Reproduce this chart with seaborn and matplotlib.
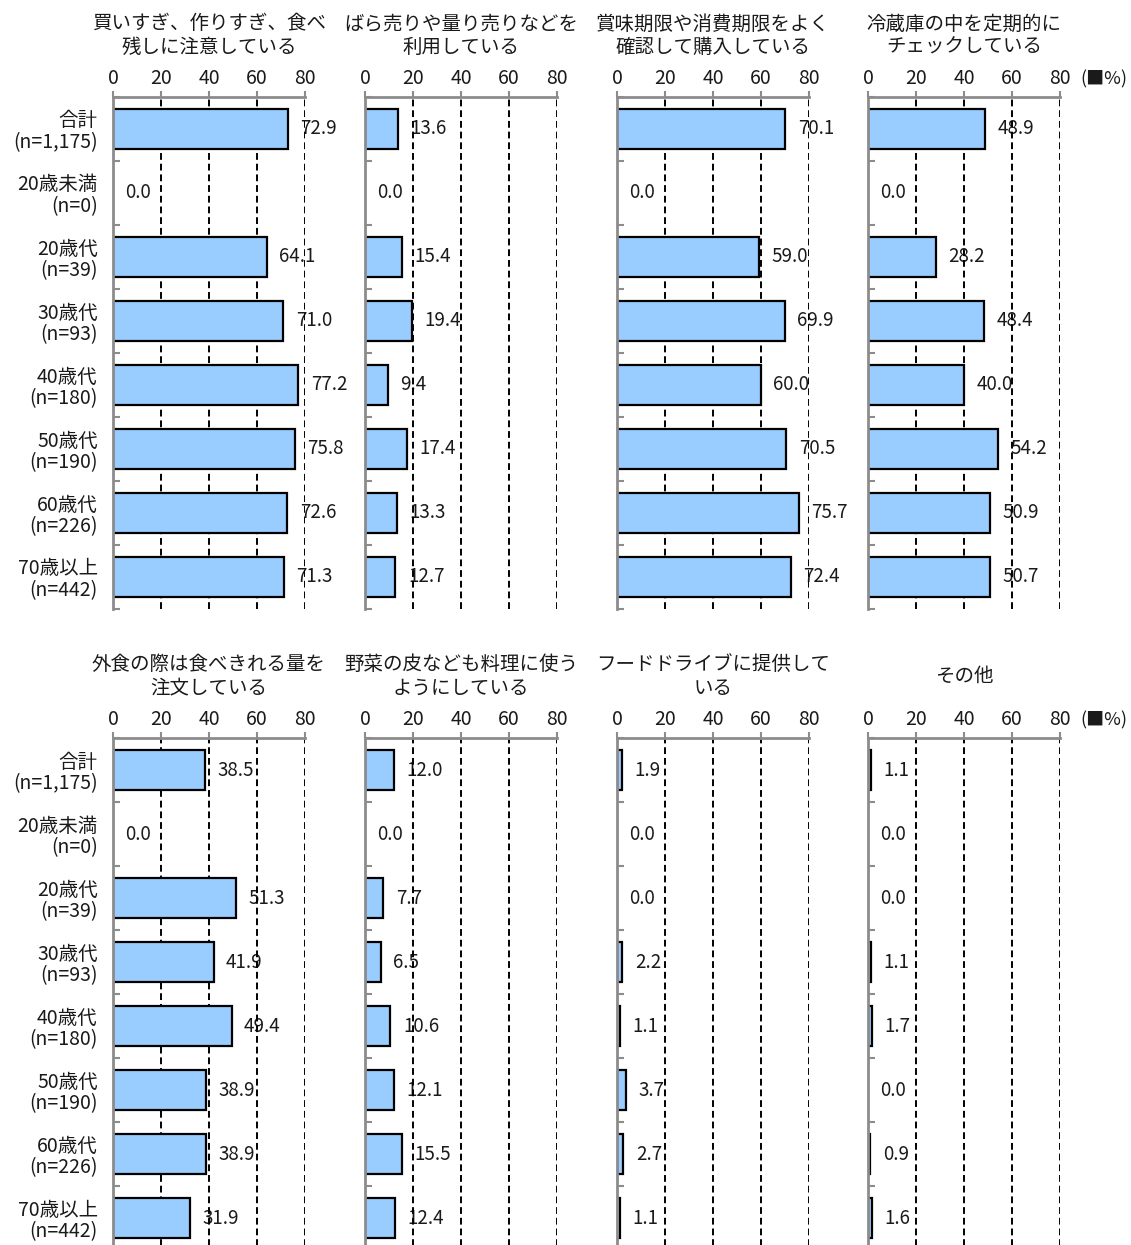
import pandas as pd
import matplotlib.pyplot as plt
import seaborn as sns

# Categories (age groups)
categories = [
    "合計\n(n=1,175)",
    "20歳未満\n(n=0)",
    "20歳代\n(n=39)",
    "30歳代\n(n=93)",
    "40歳代\n(n=180)",
    "50歳代\n(n=190)",
    "60歳代\n(n=226)",
    "70歳以上\n(n=442)",
]

# Panel titles
titles = [
    "買いすぎ、作りすぎ、食べ\n残しに注意している",
    "ばら売りや量り売りなどを\n利用している",
    "賞味期限や消費期限をよく\n確認して購入している",
    "冷蔵庫の中を定期的に\nチェックしている",
    "外食の際は食べきれる量を\n注文している",
    "野菜の皮なども料理に使う\nようにしている",
    "フードドライブに提供して\nいる",
    "その他",
]

# Values (%) per panel
buy_less = [72.9, 0.0, 64.1, 71.0, 77.2, 75.8, 72.6, 71.3]
bulk_sale = [13.6, 0.0, 15.4, 19.4, 9.4, 17.4, 13.3, 12.7]
check_dates = [70.1, 0.0, 59.0, 69.9, 60.0, 70.5, 75.7, 72.4]
check_fridge = [48.9, 0.0, 28.2, 48.4, 40.0, 54.2, 50.9, 50.7]
order_eatout = [38.5, 0.0, 51.3, 41.9, 49.4, 38.9, 38.9, 31.9]
use_peels = [12.0, 0.0, 7.7, 6.5, 10.6, 12.1, 15.5, 12.4]
food_drive = [1.9, 0.0, 0.0, 2.2, 1.1, 3.7, 2.7, 1.1]
other = [1.1, 0.0, 0.0, 1.1, 1.7, 0.0, 0.9, 1.6]

series = [buy_less, bulk_sale, check_dates, check_fridge,
          order_eatout, use_peels, food_drive, other]

xticks = [0, 20, 40, 60, 80]

sns.set_style("white")
plt.rcParams["font.family"] = ["Noto Sans CJK JP", "DejaVu Sans"]

W, H = 1131, 1245
fig = plt.figure(figsize=(W / 100, H / 100), dpi=100)

lefts = [113, 365, 617, 868]
tops = [97, 738]
aw, ah = 192, 512
bar_color = "#99CCFF"
spine_color = "#8c8c8c"
text_color = "#1a1a1a"

for i, (title, vals) in enumerate(zip(titles, series)):
    row, col = divmod(i, 4)
    left = lefts[col] / W
    bottom = 1 - (tops[row] + ah) / H
    ax = fig.add_axes([left, bottom, aw / W, ah / H])

    df = pd.DataFrame({"category": categories, "value": vals})
    sns.barplot(data=df, x="value", y="category", order=categories, ax=ax,
                color=bar_color, saturation=1, edgecolor="black",
                linewidth=1.6, width=0.62, zorder=2)
    for p, v in zip(ax.patches, vals):
        if v == 0:
            p.set_linewidth(0)

    ax.bar_label(ax.containers[0], fmt="%.1f", padding=9,
                 fontsize=13.5, color=text_color, zorder=1)

    for t in xticks[1:]:
        ax.axvline(t, color="black", linestyle=(0, (3.5, 2)), linewidth=1.4, zorder=1.5)

    ax.set_xlim(0, 80)
    ax.set_ylim(7.5, -0.5)
    ax.set_xticks(xticks)
    ax.xaxis.tick_top()
    ax.tick_params(axis="x", which="major", top=True, bottom=False, length=4,
                   width=1.5, color=spine_color, labelsize=14,
                   labelcolor=text_color, pad=2)
    ax.set_yticks(range(len(categories)))
    ax.set_yticks([k - 0.5 for k in range(len(categories) + 1)], minor=True)
    ax.tick_params(axis="y", which="major", length=0, pad=11,
                   labelsize=14, labelcolor=text_color)
    ax.tick_params(axis="y", which="minor", left=True, direction="in",
                   length=5, width=1.5, color=spine_color)
    if col == 0:
        ax.set_yticklabels(categories, ha="right", multialignment="right",
                           linespacing=1.05)
    else:
        ax.set_yticklabels([])

    ax.set_xlabel("")
    ax.set_ylabel("")
    for s in ["right", "bottom"]:
        ax.spines[s].set_visible(False)
    for s in ["top", "left"]:
        ax.spines[s].set_color(spine_color)
        ax.spines[s].set_linewidth(2)

    ax.text(0.5, 1.12, title, transform=ax.transAxes, ha="center",
            va="center", fontsize=14, color=text_color, linespacing=1.15)

    if col == 3:
        ax.text(1.23, 1.035, "(■%)", transform=ax.transAxes, ha="center",
                va="center", fontsize=13, color=text_color)

fig.savefig("out.png", dpi=100)
